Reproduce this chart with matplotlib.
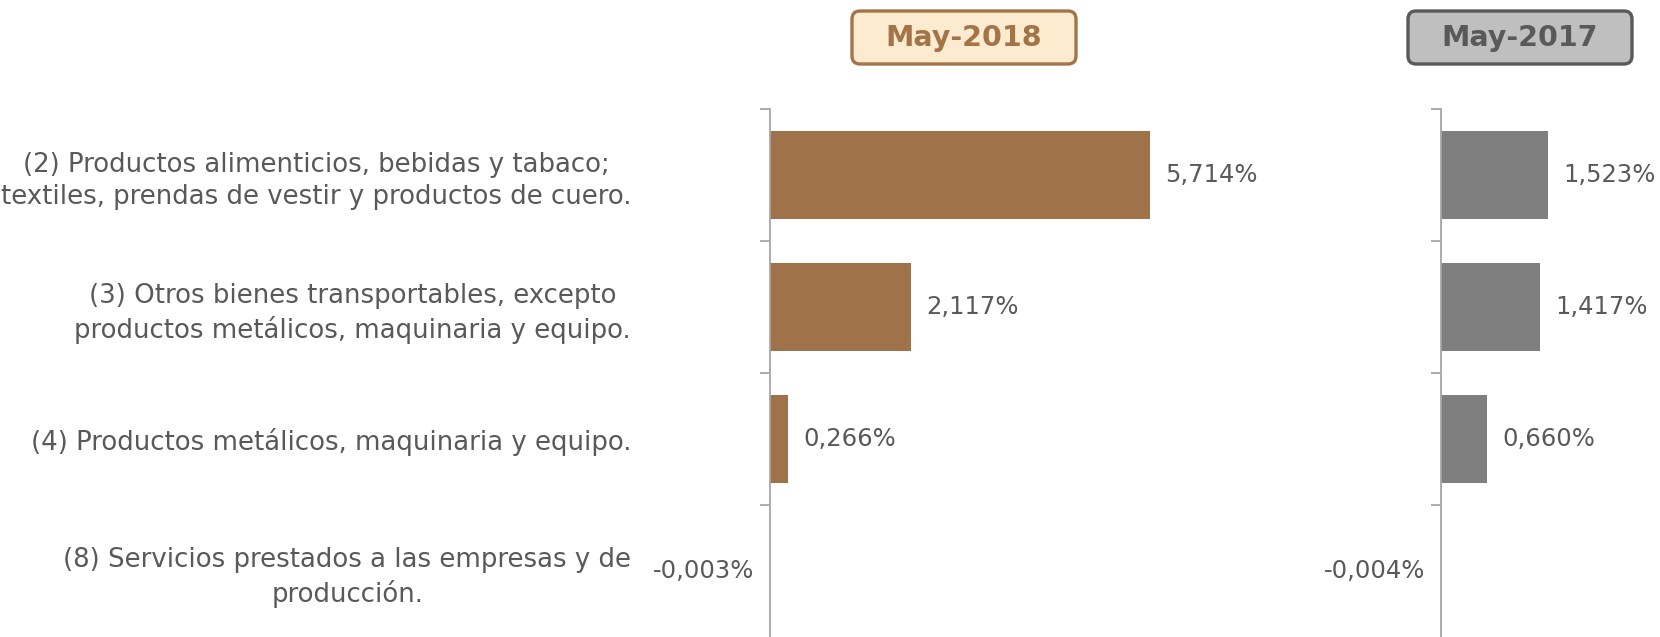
import matplotlib.pyplot as plt
from matplotlib.patches import FancyBboxPatch

categories = [
    "(2) Productos alimenticios, bebidas y tabaco;\ntextiles, prendas de vestir y productos de cuero.",
    "(3) Otros bienes transportables, excepto\nproductos metálicos, maquinaria y equipo.",
    "(4) Productos metálicos, maquinaria y equipo.",
    "(8) Servicios prestados a las empresas y de\nproducción.",
]
values_2018 = [5.714, 2.117, 0.266, -0.003]
values_2017 = [1.523, 1.417, 0.660, -0.004]
titles = ["May-2018", "May-2017"]

text_gray = "#595959"
brown = "#A0724A"
gray_bar = "#7F7F7F"

plt.rcParams['font.family'] = ['DejaVu Sans']

fig = plt.figure(figsize=(16.6, 6.37), dpi=100)
fig.patch.set_facecolor("white")

ax1 = fig.add_axes([770 / 1660, 0, 530 / 1660, 528 / 637])
ax2 = fig.add_axes([1441 / 1660, 0, 219 / 1660, 528 / 637])


def fmt(v):
    return f"{v:.3f}%".replace(".", ",")


def draw_panel(ax, values, color, xmax, show_labels):
    ypos = list(range(len(values)))
    ax.barh(ypos, values, height=0.66, color=color)
    ax.set_xlim(0, xmax)
    ax.set_ylim(len(values) - 0.5, -0.5)
    for s in ["top", "right", "bottom"]:
        ax.spines[s].set_visible(False)
    ax.spines["left"].set_color("#A6A6A6")
    ax.spines["left"].set_linewidth(1.3)
    ax.set_facecolor("none")
    ax.set_xticks([])
    ax.set_yticks([i - 0.5 for i in range(len(values))])
    ax.set_yticklabels([])
    ax.tick_params(axis="y", which="major", length=7, width=1.3, color="#A6A6A6", direction="out")
    ax.set_yticks(ypos, minor=True)
    if show_labels:
        ax.set_yticklabels(categories, minor=True, fontsize=18.7, color=text_gray,
                           multialignment="center", linespacing=1.3)
    ax.tick_params(axis="y", which="minor", length=0, pad=100)
    for y, v in zip(ypos, values):
        if v >= 0:
            ax.annotate(fmt(v), (v, y), xytext=(11, 0), textcoords="offset points",
                        ha="left", va="center", fontsize=17.5, color=text_gray)
        else:
            ax.annotate(fmt(v), (0, y), xytext=(-11, 0), textcoords="offset points",
                        ha="right", va="center", fontsize=17.5, color=text_gray)


draw_panel(ax1, values_2018, brown, 530 / 66.5, True)
draw_panel(ax2, values_2017, gray_bar, 219 / 70.0, False)

# title boxes above each panel
boxes = [
    (8.52, titles[0], "#FDEBD0", "#A47449"),
    (14.08, titles[1], "#BFBFBF", "#595959"),
]
for x0, label, face, edge in boxes:
    box = FancyBboxPatch((x0, 5.73), 2.24, 0.53,
                         boxstyle="round,pad=0,rounding_size=0.08",
                         transform=fig.dpi_scale_trans, facecolor=face,
                         edgecolor=edge, linewidth=2.4)
    fig.patches.append(box)
    fig.text((x0 + 1.12) / 16.6, (5.73 + 0.265) / 6.37, label, ha="center", va="center",
             fontsize=20.5, fontweight="bold", color=edge)

fig.savefig("out.png", dpi=100)
